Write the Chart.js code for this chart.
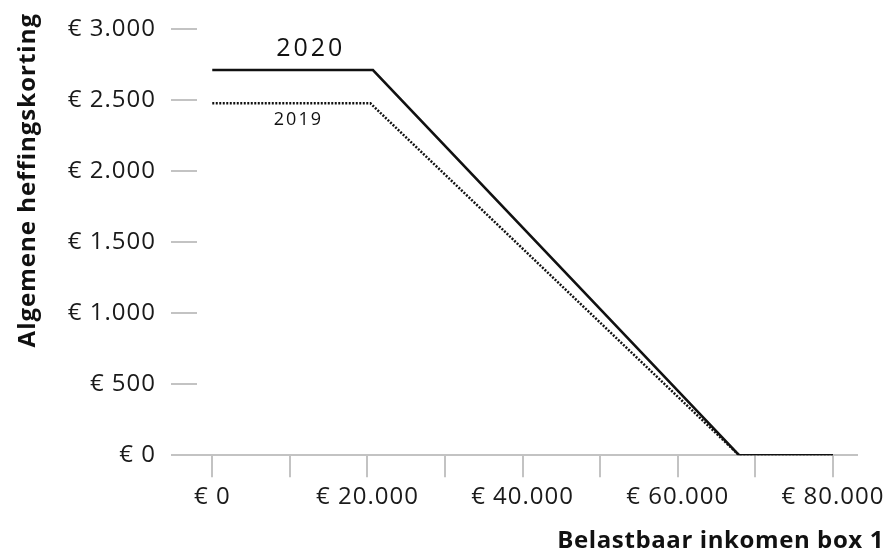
<!DOCTYPE html>
<html>
<head>
<meta charset="utf-8">
<script src="https://cdn.jsdelivr.net/npm/chart.js@4/dist/chart.umd.min.js"></script>
<style>
  html, body { margin: 0; padding: 0; background: #fff; }
  #wrap { width: 888px; height: 553px; }
</style>
</head>
<body>
<div id="wrap"><canvas id="c" width="888" height="553"></canvas></div>
<script>
// ---- data ----
const income2020 = [0, 20711, 67900, 80000];
const credit2020 = [2711, 2711, 0, 0];
const income2019 = [0, 20384, 67900, 80000];
const credit2019 = [2477, 2477, 0, 0];
const seriesNames = ['2020', '2019'];
const xTickLabels = [0, 20000, 40000, 60000, 80000];
const xTickMarks = [0, 10000, 20000, 30000, 40000, 50000, 60000, 70000, 80000];
const yTickValues = [0, 500, 1000, 1500, 2000, 2500, 3000];
const xTitle = 'Belastbaar inkomen box 1';
const yTitle = 'Algemene heffingskorting';

const FONT = "'Open Sans', sans-serif";
const GREY = '#c3c3c3';

function fmt(v) {
  const s = String(Math.round(v)).replace(/\B(?=(\d{3})+(?!\d))/g, '.');
  return '\u20AC ' + s;
}

const toPoints = (xs, ys) => xs.map((x, i) => ({ x: x, y: ys[i] }));

const spacing = {
  id: 'spacing',
  beforeLayout(chart) { chart.ctx.letterSpacing = '1px'; },
  beforeDraw(chart) { chart.ctx.letterSpacing = '1px'; }
};

const annotate = {
  id: 'annotate',
  afterDatasetsDraw(chart) {
    const { ctx, scales: { x, y } } = chart;
    ctx.save();
    ctx.fillStyle = '#111';
    ctx.textAlign = 'center';
    ctx.textBaseline = 'middle';
    ctx.letterSpacing = '3px';
    ctx.font = "25px " + FONT;
    ctx.fillText(seriesNames[0], x.getPixelForValue(12700), y.getPixelForValue(2863));
    ctx.letterSpacing = '2px';
    ctx.font = "18px " + FONT;
    ctx.fillText(seriesNames[1], x.getPixelForValue(11100), y.getPixelForValue(2360));
    // x-axis title, right aligned to canvas edge
    ctx.letterSpacing = '0.6px';
    ctx.font = "bold 24px " + FONT;
    ctx.textAlign = 'right';
    ctx.fillText(xTitle, chart.width - 4, 541);
    ctx.restore();
  }
};

new Chart(document.getElementById('c'), {
  type: 'line',
  data: {
    datasets: [
      {
        label: seriesNames[0],
        data: toPoints(income2020, credit2020),
        borderColor: '#111',
        borderWidth: 2.5,
        pointRadius: 0,
        tension: 0,
        fill: false
      },
      {
        label: seriesNames[1],
        data: toPoints(income2019, credit2019),
        borderColor: '#111',
        borderWidth: 2.5,
        borderDash: [2, 1.5],
        pointRadius: 0,
        tension: 0,
        fill: false
      }
    ]
  },
  options: {
    responsive: false,
    animation: false,
    devicePixelRatio: 1,
    layout: { padding: { left: 11, top: 13, right: 31, bottom: 35 } },
    plugins: { legend: { display: false }, tooltip: { enabled: false } },
    scales: {
      x: {
        type: 'linear',
        min: -1967,
        max: 83100,
        afterBuildTicks: (s) => { s.ticks = xTickMarks.map(v => ({ value: v })); },
        afterFit: (s) => { s.paddingLeft = 0; s.paddingRight = 0; },
        ticks: {
          autoSkip: false,
          maxRotation: 0,
          padding: 6,
          color: '#1a1a1a',
          font: { family: FONT, size: 24 },
          callback: (v) => xTickLabels.includes(v) ? fmt(v) : ''
        },
        grid: { drawOnChartArea: false, drawTicks: true, tickLength: 22, color: GREY, lineWidth: 2 },
        border: { display: true, color: GREY, width: 2 }
      },
      y: {
        type: 'linear',
        min: 0,
        max: 3113,
        afterBuildTicks: (s) => { s.ticks = yTickValues.map(v => ({ value: v })); },
        afterFit: (s) => { s.width = 186; s.paddingTop = 0; s.paddingBottom = 0; },
        ticks: {
          padding: 15,
          color: '#1a1a1a',
          font: { family: FONT, size: 24 },
          callback: (v) => fmt(v)
        },
        grid: { drawOnChartArea: false, drawTicks: true, tickLength: 26, color: GREY, lineWidth: 2 },
        border: { display: false },
        title: {
          display: true,
          text: yTitle,
          align: 'end',
          color: '#111',
          font: { family: FONT, size: 24, weight: 'bold' },
          padding: { top: 3, bottom: 3 }
        }
      }
    }
  },
  plugins: [spacing, annotate]
});
</script>
</body>
</html>
